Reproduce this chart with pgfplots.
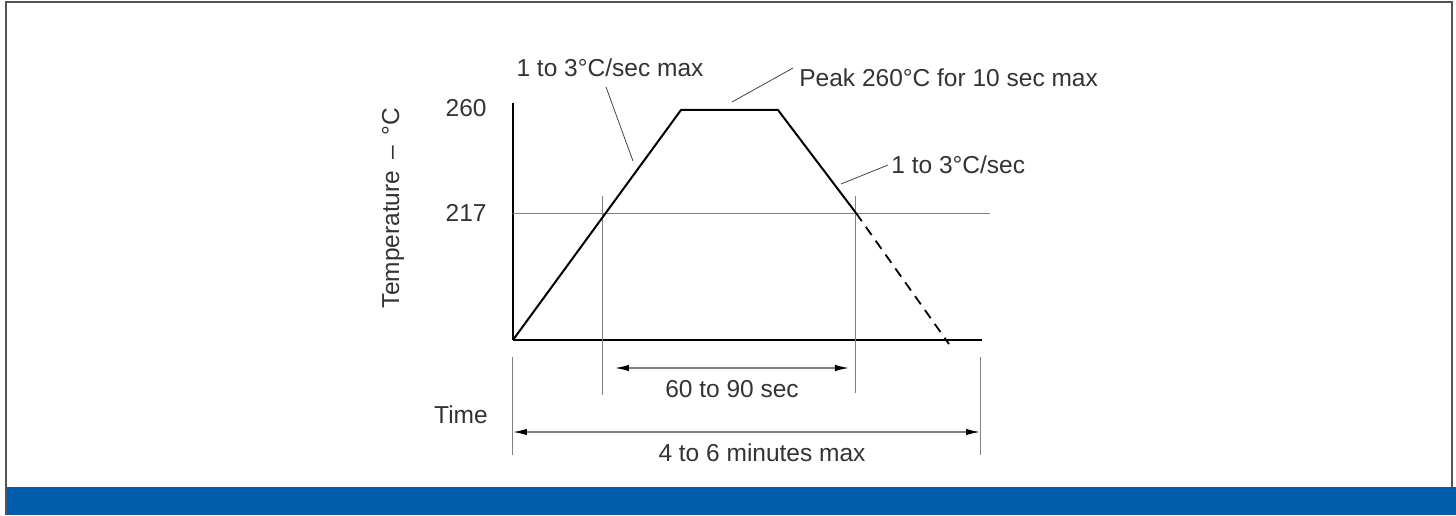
\documentclass[border=0pt]{standalone}
\usepackage{pgfplots}
\pgfplotsset{compat=1.18}
\usepackage{fontspec}
\setmainfont{Liberation Sans}
\usetikzlibrary{arrows.meta}
\definecolor{txt}{HTML}{333333}
\definecolor{guide}{HTML}{808080}
\definecolor{lead}{HTML}{444444}
\definecolor{band}{HTML}{005BAA}
\definecolor{frame}{HTML}{555555}
\newcommand{\lbl}{\fontsize{12.25}{14}\selectfont}
\begin{document}
\begin{tikzpicture}
\begin{axis}[
  x=0.5pt, y=1.19767pt,
  xmin=0, xmax=469, ymin=164, ymax=262.92,
  axis lines=left,
  axis line style={-, line width=1pt, black},
  xtick=\empty,
  ytick={217,260},
  yticklabels={217,\raisebox{2.5pt}{260}},
  major tick length=0pt,
  yticklabel style={font=\lbl, text=txt, anchor=east, inner sep=0pt, xshift=-13pt},
  /pgf/number format/assume math mode=true,
  clip=false,
]
% background band and frame
\fill[band] (axis cs:-506,90.922) rectangle (axis cs:943,102.61);
\draw[frame, line width=1pt] (axis cs:-506.5,90.922) -- (axis cs:-506.5,305.09) -- (axis cs:939,305.09) -- (axis cs:939,102.61);
\coordinate (bbll) at (axis cs:-513,90.922);
\coordinate (bbur) at (axis cs:943,305.922);

% guide lines
\addplot[guide, line width=0.5pt] coordinates {(0,217) (477,217)};
\addplot[guide, line width=0.5pt] coordinates {(90,224.1) (90,141.0)};
\addplot[guide, line width=0.5pt] coordinates {(343,224.1) (343,141.85)};
\addplot[guide, line width=0.5pt] coordinates {(0,156.88) (0,115.97)};
\addplot[guide, line width=0.5pt] coordinates {(467,156.88) (467,115.97)};

% dimension arrows
\addplot[guide, line width=0.6pt, {Latex[length=7pt,width=3.2pt,color=black]}-{Latex[length=7pt,width=3.2pt,color=black]}] coordinates {(102,152.29) (336,152.29)};
\addplot[guide, line width=0.6pt, {Latex[length=7pt,width=3.2pt,color=black]}-{Latex[length=7pt,width=3.2pt,color=black]}] coordinates {(0,125.57) (467,125.57)};

% leader lines
\addplot[lead, line width=0.4pt] coordinates {(93,269.6) (120,238.71)};
\addplot[lead, line width=0.4pt] coordinates {(219,263.34) (280,277.53)};
\addplot[lead, line width=0.4pt] coordinates {(328,229.11) (375,237.04)};

% reflow profile
\addplot[black, line width=1pt, line join=miter] coordinates {(0,164) (168,260) (265,260) (343,217)};
\addplot[black, line width=0.9pt, dash pattern=on 5pt off 3.5pt] coordinates {(343,217) (436,162.3)};

% texts
\node[font=\lbl, text=txt, inner sep=0pt] at (axis cs:97,277.53) {1 to 3°C/sec max};
\node[font=\lbl, text=txt, inner sep=0pt, anchor=west] at (axis cs:286,273.36) {Peak 260°C for 10 sec max};
\node[font=\lbl, text=txt, inner sep=0pt, anchor=west] at (axis cs:378,237.04) {1 to 3°C/sec};
\node[font=\lbl, text=txt, inner sep=0pt] at (axis cs:219,143.52) {60 to 90 sec};
\node[font=\lbl, text=txt, inner sep=0pt] at (axis cs:-52,132.67) {Time};
\node[font=\lbl, text=txt, inner sep=0pt] at (axis cs:249,116.80) {4 to 6 minutes max};
\node[font=\lbl, text=txt, inner sep=0pt, rotate=90] at (axis cs:-120,219.1) {Temperature\ \,–\ \,°C};
\end{axis}
\pgfresetboundingbox
\useasboundingbox (bbll) rectangle (bbur);
\end{tikzpicture}
\end{document}
